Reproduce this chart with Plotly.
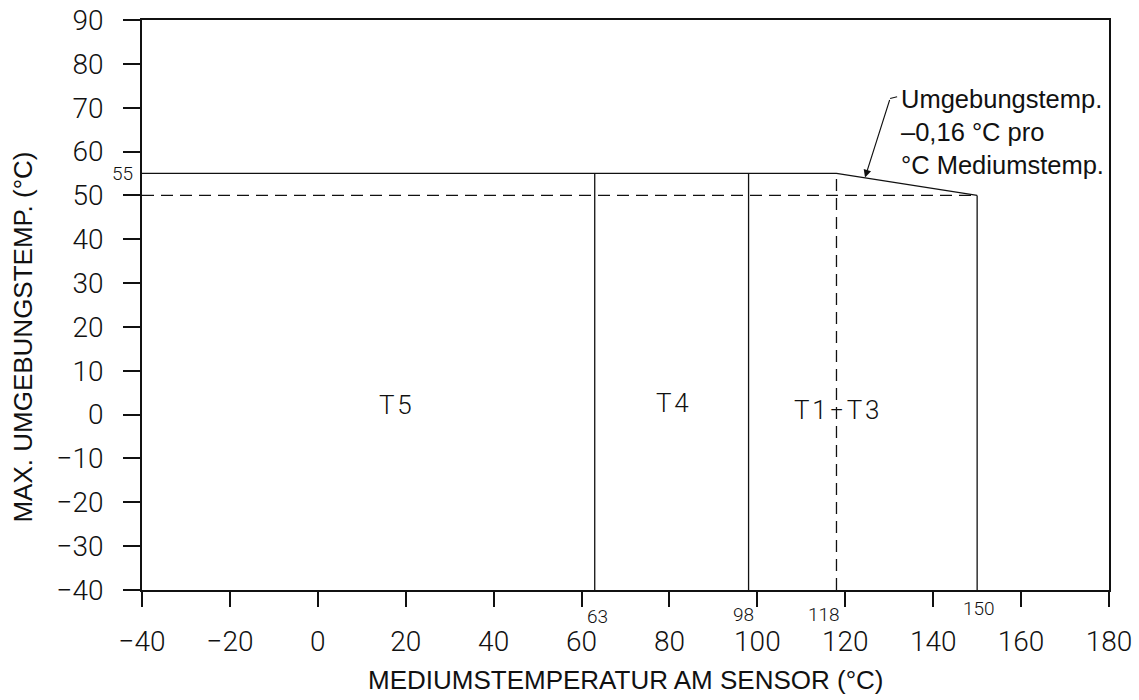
import plotly.graph_objects as go

# ---- data ----
limit_x = [-40, 118, 150]          # max ambient boundary (solid top line)
limit_y = [55, 55, 50]
class_limits = [63, 98, 150]       # solid vertical class borders
class_limit_tops = [55, 55, 50]
dashed_x = 118                     # dashed vertical
dashed_top = 55
dashed_y = 50                      # dashed horizontal
dashed_right = 150
x_min, x_max = -40, 180
y_min, y_max = -40, 90
x_ticks = [-40, -20, 0, 20, 40, 60, 80, 100, 120, 140, 160, 180]
y_ticks = [90, 80, 70, 60, 50, 40, 30, 20, 10, 0, -10, -20, -30, -40]
class_names = ["T\u200a5", "T\u200a4", "T\u200a1\u200a−\u200aT\u200a3"]
class_label_x = [17.6, 80.7, 118]
class_label_y = [2.2, 2.7, 1.1]
mark_labels = ["63", "98", "118", "150"]
mark_label_x = [63, 98, 118, 150]
note_lines = ["Umgebungstemp.", "–0,16 °C pro", "°C Mediumstemp."]

LC = "#111111"
fig = go.Figure()

def line(xs, ys, dash=None, width=1.3):
    fig.add_trace(go.Scatter(x=xs, y=ys, mode="lines",
                             line=dict(color=LC, width=width, dash=dash),
                             hoverinfo="skip", showlegend=False))

# top boundary
line(limit_x, limit_y)
# class borders
for cx, ct in zip(class_limits, class_limit_tops):
    line([cx, cx], [y_min, ct])
# dashed lines
line([dashed_x, dashed_x], [y_min, dashed_top], dash="12px,7px")
line([x_min, dashed_right], [dashed_y, dashed_y], dash="12px,7px")

# leader line with hook
line([131.8, 130.2], [72.5, 72.1], width=1.2)
fig.add_annotation(x=124.5, y=54.1, ax=130.2, ay=72.1, xref="x", yref="y", axref="x", ayref="y",
                   showarrow=True, arrowhead=2, arrowsize=1.4, arrowwidth=1.1, arrowcolor=LC, text="")

TF = dict(family="Roboto", size=26, color=LC, weight=300)
for name, lx, ly in zip(class_names, class_label_x, class_label_y):
    fig.add_annotation(x=lx, y=ly, text=name, showarrow=False, font=TF)

SF = dict(family="Roboto", size=19, color=LC, weight=300)
mark_shift_x = [3, -5, -12, 2]
mark_shift_y = [-26, -24, -24, -18]
for t, mx, sx, sy in zip(mark_labels, mark_label_x, mark_shift_x, mark_shift_y):
    fig.add_annotation(x=mx, y=y_min, text=t, showarrow=False, font=SF,
                       xanchor="center", yanchor="middle", xshift=sx, yshift=sy)
fig.add_annotation(x=x_min, y=55, text="55", showarrow=False, font=SF,
                   xanchor="center", yanchor="middle", xshift=-19.5)

NF = dict(family="Liberation Sans", size=25.5, color=LC)
fig.add_annotation(x=132.2, y=71.75, text="<br>".join(note_lines), showarrow=False, font=NF,
                   xanchor="left", yanchor="top", align="left", yshift=17)

fig.add_annotation(xref="paper", yref="paper", x=-0.123, y=0.443, text="MAX. UMGEBUNGSTEMP. (°C)",
                   textangle=-90, showarrow=False, xanchor="center", yanchor="middle",
                   font=dict(family="Liberation Sans", size=26, color=LC))
fig.add_annotation(xref="paper", yref="paper", x=0.5, y=-0.158, text="MEDIUMSTEMPERATUR AM SENSOR (°C)",
                   showarrow=False, xanchor="center", yanchor="middle",
                   font=dict(family="Liberation Sans", size=26, color=LC))

axis_common = dict(showline=True, linecolor=LC, linewidth=1.5, mirror=True, ticks="outside",
                   tickwidth=1.5, tickcolor=LC, showgrid=False, zeroline=False, automargin=False,
                   tickfont=dict(family="Roboto", size=28, color=LC, weight=300))
fig.update_xaxes(range=[x_min, x_max], tickvals=x_ticks, ticklen=15, ticklabelstandoff=11, **axis_common)
fig.update_yaxes(range=[y_min, y_max], tickvals=y_ticks, ticklen=17, ticklabelstandoff=14, **axis_common)

fig.update_layout(width=1139, height=700, margin=dict(l=142, r=30, t=20, b=110),
                  plot_bgcolor="white", paper_bgcolor="white", showlegend=False)

fig.write_html("out.html", config={"displayModeBar": False},
               post_script="document.body.style.margin='0';")
